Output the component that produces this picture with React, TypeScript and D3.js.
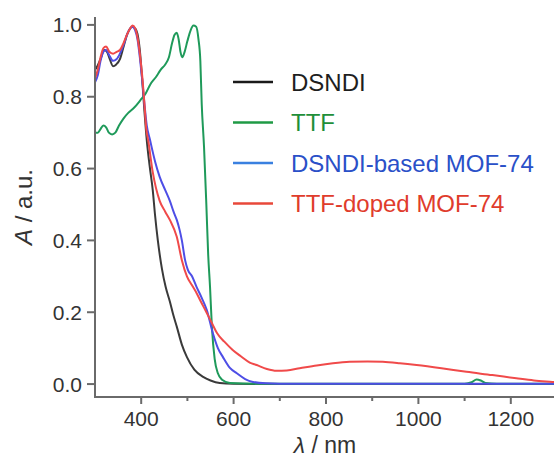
import React from "react";
import * as d3 from "d3";

type Pt = [number, number];

// Absorption spectra: [wavelength (nm), absorbance (a.u.)]
const dsndi: Pt[] = [
  [300, 0.875], [305, 0.885], [312, 0.905], [320, 0.93], [326, 0.925], [332, 0.905],
  [339, 0.885], [346, 0.89], [354, 0.905], [362, 0.94], [370, 0.975], [376, 0.99],
  [381, 0.995], [387, 0.99], [392, 0.975], [397, 0.93], [402, 0.85], [407, 0.76],
  [412, 0.68], [418, 0.61], [425, 0.54], [430, 0.47], [436, 0.4], [445, 0.32],
  [453, 0.27], [462, 0.23], [470, 0.19], [477, 0.16], [488, 0.11], [499, 0.075],
  [515, 0.04], [534, 0.02], [550, 0.01], [570, 0.003], [600, 0.001], [700, 0], [1300, 0],
];

const ttf: Pt[] = [
  [300, 0.7], [306, 0.7], [312, 0.71], [318, 0.72], [324, 0.715], [330, 0.7],
  [337, 0.695], [344, 0.7], [352, 0.72], [362, 0.74], [372, 0.755], [385, 0.77],
  [398, 0.79], [410, 0.81], [420, 0.835], [432, 0.855], [442, 0.875], [452, 0.89],
  [460, 0.91], [467, 0.95], [472, 0.972], [477, 0.978], [481, 0.96], [485, 0.925],
  [489, 0.91], [494, 0.925], [500, 0.955], [507, 0.985], [513, 0.998], [519, 0.995],
  [524, 0.96], [528, 0.9], [531, 0.78], [536, 0.66], [541, 0.5], [545, 0.36],
  [549, 0.27], [553, 0.16], [559, 0.07], [566, 0.03], [575, 0.012], [592, 0.003],
  [650, 0.001], [1100, 0.001], [1115, 0.005], [1126, 0.013], [1135, 0.01],
  [1145, 0.003], [1170, 0.001], [1300, 0.001],
];

const dsndiMof: Pt[] = [
  [300, 0.84], [306, 0.86], [312, 0.9], [318, 0.925], [324, 0.93], [331, 0.915],
  [339, 0.9], [347, 0.905], [354, 0.92], [362, 0.945], [370, 0.975], [376, 0.99],
  [381, 0.995], [387, 0.985], [392, 0.96], [397, 0.91], [402, 0.85], [407, 0.78],
  [412, 0.72], [419, 0.68], [430, 0.62], [440, 0.577], [452, 0.54], [462, 0.51],
  [470, 0.48], [477, 0.457], [483, 0.43], [488, 0.4], [495, 0.345], [501, 0.318],
  [510, 0.3], [520, 0.27], [531, 0.24], [542, 0.206], [555, 0.142], [566, 0.1],
  [577, 0.075], [592, 0.045], [607, 0.03], [625, 0.014], [642, 0.006], [670, 0.002],
  [700, 0.001], [1300, 0.001],
];

const ttfMof: Pt[] = [
  [300, 0.85], [306, 0.875], [312, 0.91], [318, 0.935], [324, 0.94], [331, 0.925],
  [339, 0.92], [347, 0.925], [354, 0.93], [362, 0.95], [370, 0.975], [376, 0.99],
  [381, 0.998], [387, 0.99], [392, 0.965], [397, 0.92], [402, 0.86], [407, 0.78],
  [411, 0.71], [415, 0.68], [425, 0.59], [440, 0.51], [452, 0.48], [462, 0.457],
  [477, 0.41], [488, 0.345], [499, 0.3], [510, 0.275], [520, 0.253], [531, 0.225],
  [542, 0.198], [553, 0.17], [564, 0.142], [580, 0.118], [598, 0.095], [615, 0.078],
  [635, 0.06], [650, 0.053], [672, 0.042], [693, 0.037], [715, 0.038], [743, 0.044],
  [780, 0.052], [815, 0.058], [851, 0.062], [890, 0.063], [923, 0.062], [960, 0.058],
  [996, 0.053], [1050, 0.044], [1104, 0.034], [1160, 0.025], [1212, 0.016],
  [1250, 0.01], [1290, 0.006], [1300, 0.005],
];

const seriesNames = ["DSNDI", "TTF", "DSNDI-based MOF-74", "TTF-doped MOF-74"];
const seriesData = [dsndi, ttf, dsndiMof, ttfMof];
const lineColors = ["#3a3a3a", "#1f9a5a", "#4e4ee6", "#f04a4a"];
const legendLineColors = ["#1a1a1a", "#1f9a45", "#3a80e0", "#e8483a"];
const legendTextColors = ["#1e1e1e", "#1f8f3a", "#2a50c8", "#e03c2c"];

const xMajorTicks = [400, 600, 800, 1000, 1200];
const xMinorTicks = [500, 700, 900, 1100];
const yTicks = [0, 0.2, 0.4, 0.6, 0.8, 1.0];

const W = 554;
const H = 460;
const FONT = "'Liberation Sans', Arial, Helvetica, sans-serif";
const AXIS = "#6a6a6a";
const TEXT = "#333";

export default function App() {
  const x = d3.scaleLinear().domain([300, 1300]).range([95, 557]);
  const y = d3.scaleLinear().domain([-0.036, 1.022]).range([397, 17]);

  const line = d3
    .line<Pt>()
    .x((d) => x(d[0]))
    .y((d) => y(d[1]))
    .curve(d3.curveMonotoneX);

  const x0 = x.range()[0];
  const yBase = y.range()[0];

  return (
    <svg
      width={W}
      height={H}
      style={{ position: "absolute", left: 0, top: 0, background: "#fff" }}
      fontFamily={FONT}
    >
      <defs>
        <clipPath id="plot">
          <rect x={x0} y={0} width={W - x0} height={yBase} />
        </clipPath>
      </defs>

      {/* spectra */}
      <g clipPath="url(#plot)" fill="none" strokeWidth={2} strokeLinejoin="round">
        {seriesData.map((d, i) => (
          <path key={seriesNames[i]} d={line(d) ?? ""} stroke={lineColors[i]} />
        ))}
      </g>

      {/* y axis */}
      <line x1={x0} x2={x0} y1={y.range()[1]} y2={yBase} stroke={AXIS} strokeWidth={2} />
      {yTicks.map((t) => (
        <g key={t} transform={`translate(0,${y(t)})`}>
          <line x1={x0 - 8} x2={x0} stroke={AXIS} strokeWidth={2} />
          <text x={x0 - 13} dy="0.36em" textAnchor="end" fontSize={21} fill={TEXT}>
            {t.toFixed(1)}
          </text>
        </g>
      ))}

      {/* x axis */}
      <line x1={x0 - 1} x2={W} y1={yBase} y2={yBase} stroke={AXIS} strokeWidth={2} />
      {xMajorTicks.map((t) => (
        <g key={t} transform={`translate(${x(t)},${yBase})`}>
          <line y1={0} y2={7} stroke={AXIS} strokeWidth={2} />
          <text y={29} textAnchor="middle" fontSize={21} fill={TEXT}>
            {t}
          </text>
        </g>
      ))}
      {xMinorTicks.map((t) => (
        <line key={t} x1={x(t)} x2={x(t)} y1={yBase} y2={yBase + 4} stroke={AXIS} strokeWidth={2} />
      ))}

      {/* axis titles */}
      <text
        transform="translate(32,207) rotate(-90)"
        textAnchor="middle"
        fontSize={24}
        fill={TEXT}
      >
        <tspan fontStyle="italic">A</tspan> / a.u.
      </text>
      <text x={325} y={453} textAnchor="middle" fontSize={23} fill={TEXT}>
        <tspan fontStyle="italic">λ</tspan> / nm
      </text>

      {/* legend */}
      {seriesNames.map((name, i) => {
        const cy = 82 + i * 40.5;
        return (
          <g key={name} transform={`translate(0,${cy})`}>
            <line x1={233} x2={273} stroke={legendLineColors[i]} strokeWidth={2.5} />
            <text x={291} dy="0.36em" fontSize={24} fill={legendTextColors[i]}>
              {name}
            </text>
          </g>
        );
      })}
    </svg>
  );
}
